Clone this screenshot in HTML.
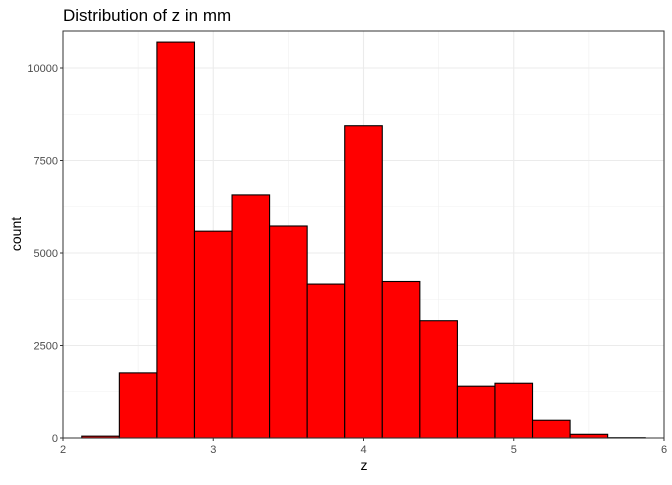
<!DOCTYPE html>
<html><head><meta charset="utf-8"><style>
body{margin:0;background:#fff;font-family:"Liberation Sans",sans-serif}
</style></head><body>
<svg id="c" width="672" height="480" xmlns="http://www.w3.org/2000/svg">
<text x="63" y="21" font-size="17" fill="#000">Distribution of z in mm</text>
<g id="grid"></g><g id="bars"></g><g id="axes"></g>
<text x="364" y="470" font-size="14" text-anchor="middle">z</text>
<text transform="translate(21,234) rotate(-90)" font-size="14" text-anchor="middle">count</text>
</svg>
<script>
const binCenters=[2.25,2.5,2.75,3.0,3.25,3.5,3.75,4.0,4.25,4.5,4.75,5.0,5.25,5.5,5.75];
const counts=[50,1760,10700,5590,6570,5730,4160,8440,4230,3170,1400,1480,480,100,8];
const xTicks=[2,3,4,5,6];
const yTicks=[0,2500,5000,7500,10000];
const binWidth=0.25;
const L=63,R=664,T=31,B=438;
const x=v=>L+(v-2)/4*(R-L);
const y=v=>B-v/10000*(B-68);
const NS="http://www.w3.org/2000/svg";
function mk(tag,attrs,parent){const e=document.createElementNS(NS,tag);for(const k in attrs)e.setAttribute(k,attrs[k]);document.getElementById(parent).appendChild(e);return e;}
// minor grid
for(let i=0;i<xTicks.length-1;i++){const e=mk('line',{x1:x(xTicks[i]+0.5),x2:x(xTicks[i]+0.5),y1:T,y2:B,stroke:'#f0f0f0','stroke-width':0.6},'grid');}
for(let i=0;i<yTicks.length;i++){const v=yTicks[i]+1250;if(y(v)<T)continue;const e=mk('line',{x1:L,x2:R,y1:y(v),y2:y(v),stroke:'#f0f0f0','stroke-width':0.6},'grid');}
xTicks.forEach(v=>{const e=mk('line',{x1:x(v),x2:x(v),y1:T,y2:B,stroke:'#ebebeb','stroke-width':1.1},'grid');
const t=mk('text',{x:x(v),y:B+15,'font-size':11,fill:'#4d4d4d','text-anchor':'middle'},'axes');t.textContent=v;
mk('line',{x1:x(v),x2:x(v),y1:B,y2:B+3,stroke:'#333'},'axes');});
yTicks.forEach(v=>{const e=mk('line',{x1:L,x2:R,y1:y(v),y2:y(v),stroke:'#ebebeb','stroke-width':1.1},'grid');
const t=mk('text',{x:L-5,y:y(v)+4,'font-size':11,fill:'#4d4d4d','text-anchor':'end'},'axes');t.textContent=v;
mk('line',{x1:L-3,x2:L,y1:y(v),y2:y(v),stroke:'#333'},'axes');});
binCenters.forEach((c,i)=>{const x0=x(c-binWidth/2),x1=x(c+binWidth/2);const e=mk('rect',{x:x0,y:y(counts[i]),width:x1-x0,height:B-y(counts[i]),fill:'#ff0000',stroke:'#000','stroke-width':1.1},'bars');});
const f=mk('rect',{x:L,y:T,width:R-L,height:B-T,fill:'none',stroke:'#333','stroke-width':1},'axes');
</script>
</body></html>
